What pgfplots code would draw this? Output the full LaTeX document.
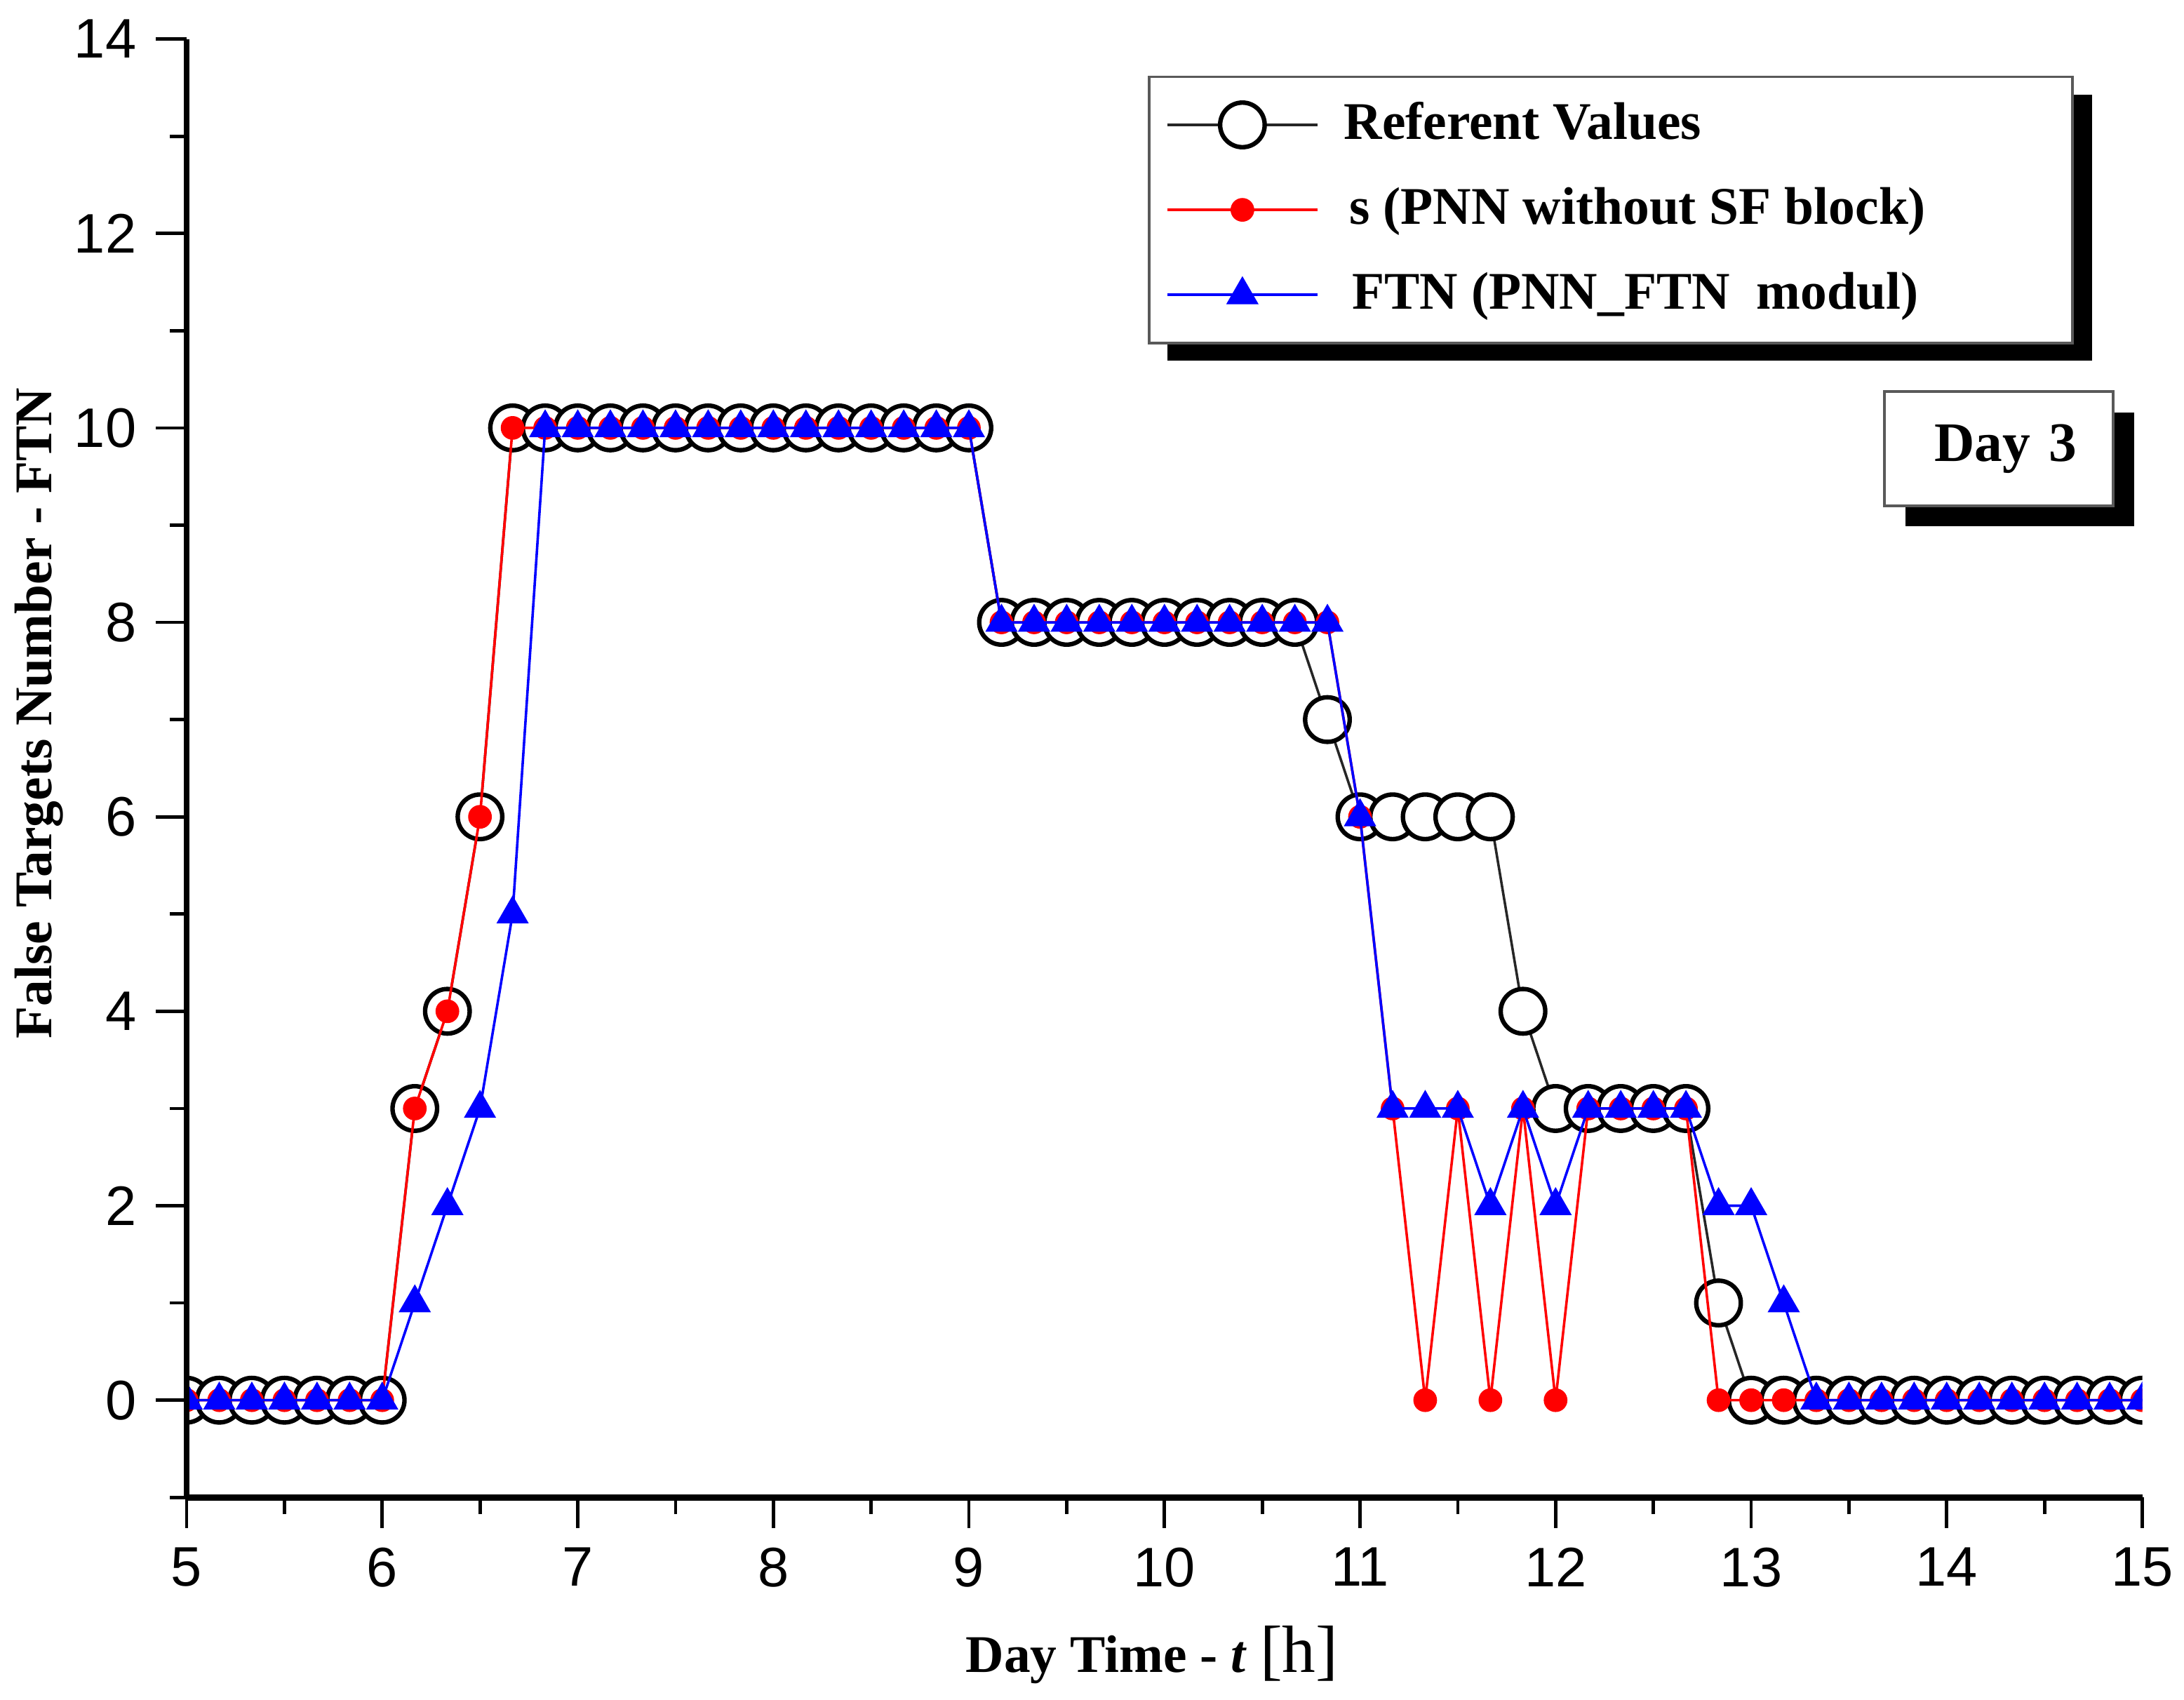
\documentclass[border=0pt]{standalone}
\usepackage{pgfplots}
\pgfplotsset{compat=1.18}
\usepackage{pgfplotstable}
\usepackage{fontspec}
\setmainfont{Liberation Serif}
\newfontfamily\ticksfont{Liberation Sans}
\usetikzlibrary{shadows}

\pgfplotstableread{
x       ref  s   ftn
5.0000  0    0   0
5.1667  0    0   0
5.3333  0    0   0
5.5000  0    0   0
5.6667  0    0   0
5.8333  0    0   0
6.0000  0    0   0
6.1667  3    3   1
6.3333  4    4   2
6.5000  6    6   3
6.6667  10   10  5
6.8333  10   10  10
7.0000  10   10  10
7.1667  10   10  10
7.3333  10   10  10
7.5000  10   10  10
7.6667  10   10  10
7.8333  10   10  10
8.0000  10   10  10
8.1667  10   10  10
8.3333  10   10  10
8.5000  10   10  10
8.6667  10   10  10
8.8333  10   10  10
9.0000  10   10  10
9.1667  8    8   8
9.3333  8    8   8
9.5000  8    8   8
9.6667  8    8   8
9.8333  8    8   8
10.0000 8    8   8
10.1667 8    8   8
10.3333 8    8   8
10.5000 8    8   8
10.6667 8    8   8
10.8333 7    8   8
11.0000 6    6   6
11.1667 6    3   3
11.3333 6    0   3
11.5000 6    3   3
11.6667 6    0   2
11.8333 4    3   3
12.0000 3    0   2
12.1667 3    3   3
12.3333 3    3   3
12.5000 3    3   3
12.6667 3    3   3
12.8333 1    0   2
13.0000 0    0   2
13.1667 0    0   1
13.3333 0    0   0
13.5000 0    0   0
13.6667 0    0   0
13.8333 0    0   0
14.0000 0    0   0
14.1667 0    0   0
14.3333 0    0   0
14.5000 0    0   0
14.6667 0    0   0
14.8333 0    0   0
15.0000 0    0   0
}\datatable

\begin{document}
\begin{tikzpicture}
\begin{axis}[
  scale only axis,
  width=351pt, height=261.75pt,
  xmin=5, xmax=15, ymin=-1, ymax=14,
  clip marker paths=true,
  axis on top,
  axis x line*=bottom, axis y line*=left,
  axis line style={-, line width=1.1pt, black},
  xtick={5,6,...,15}, minor xtick={5.5,6.5,...,14.5},
  ytick={0,2,...,14}, minor ytick={-1,1,...,13},
  tick align=outside,
  major tick length=5.5pt, minor tick length=3pt,
  tick style={black, line width=0.6pt},
  ticklabel style={font=\ticksfont\fontsize{10}{12}\selectfont},
  /pgf/number format/assume math mode=true,
  xlabel={Day Time - \textit{t} {\mdseries\large [h]}},
  ylabel={False Targets Number - FTN},
  label style={font=\bfseries\fontsize{9.5}{11}\selectfont},
  xlabel style={at={(axis description cs:0.4936,-0.108)}, anchor=center},
  ylabel style={at={(axis description cs:-0.0755,0.5377)}, anchor=center},
  legend cell align=left,
  legend image code/.code={\draw[mark repeat=2,mark phase=2,#1] plot coordinates {(0pt,0pt)(13.5pt,0pt)(27pt,0pt)};},
  legend style={at={(axis description cs:0.4915,0.975)}, anchor=north west,
    draw=gray!70!black, fill=white, line width=0.5pt,
    font=\bfseries\fontsize{9.5}{11}\selectfont,
    inner xsep=3pt, inner ysep=1pt,
    nodes={minimum height=15.25pt, inner ysep=0pt}},
]
% legend shadow
\fill[black] (rel axis cs:0.5014,0.9618) rectangle (rel axis cs:0.9744,0.7794);
\addplot[black!85, line width=0.45pt, mark=*, mark size=4pt,
  mark options={fill=white, draw=black, line width=0.8pt}] table[x=x,y=ref]{\datatable};
\addlegendentry{\hspace{2.5pt}\makebox[125.75pt][l]{Referent Values}}
\addplot[red, line width=0.45pt, mark=*, mark size=1.9pt,
  mark options={fill=red, draw=red}] table[x=x,y=s]{\datatable};
\addlegendentry{\hspace{3.5pt}\makebox[124.75pt][l]{s (PNN without SF block)}}
\addplot[blue, line width=0.45pt, mark=triangle*, mark size=2.9pt,
  mark options={fill=blue, draw=blue}] table[x=x,y=ftn]{\datatable};
\addlegendentry{\hspace{4pt}\makebox[124.25pt][l]{FTN (PNN\_FTN\ \ modul)}}
\node[draw=gray!70!black, fill=white, line width=0.5pt,
  drop shadow={shadow xshift=3.75pt, shadow yshift=-3.75pt, fill=black, opacity=1},
  minimum width=41pt, minimum height=20.5pt, inner xsep=6.5pt, text width=28pt, align=right,
  font=\bfseries\fontsize{10}{12}\selectfont] at (rel axis cs:0.9266,0.7192) {Day 3};
\end{axis}
\pgfresetboundingbox
\path (current axis.south west) +(-33.5pt,-36.25pt);
\path (current axis.north east) +(7.5pt,7pt);
\end{tikzpicture}
\end{document}
